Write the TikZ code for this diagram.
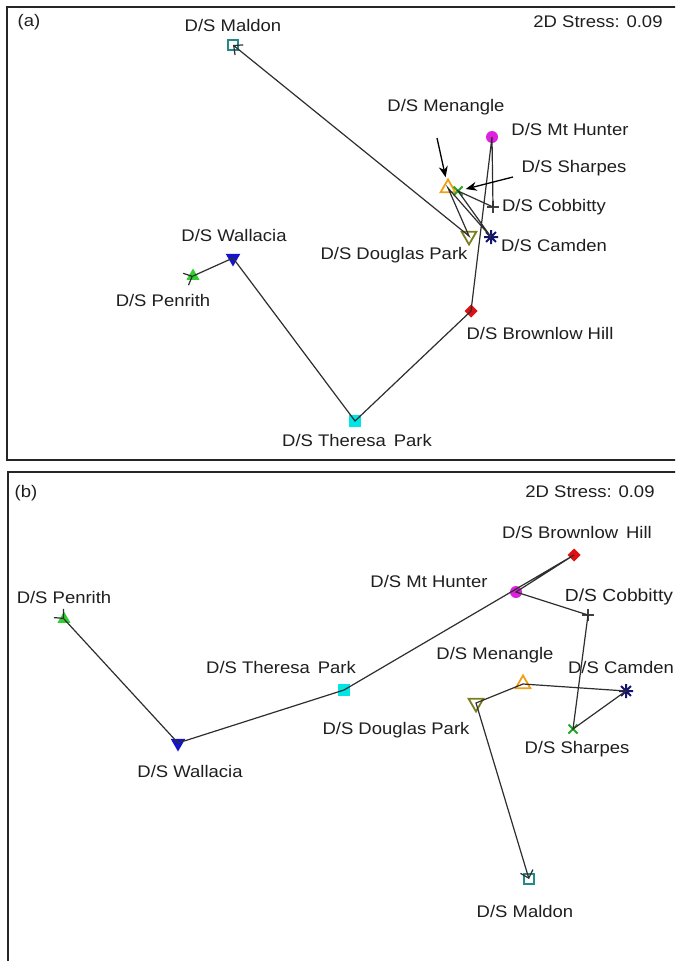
\documentclass[tikz,border=0pt]{standalone}
\usepackage{fontspec}
\setmainfont{Liberation Sans}[FakeStretch=1.1]
\usetikzlibrary{shapes.geometric,shapes.misc,arrows.meta,calc}
\definecolor{cMal}{HTML}{238A8A}
\definecolor{cHun}{HTML}{E020E0}
\definecolor{cMen}{HTML}{F0A010}
\definecolor{cSha}{HTML}{22A822}
\definecolor{cCob}{HTML}{404040}
\definecolor{cCam}{HTML}{14146E}
\definecolor{cDou}{HTML}{7D7D1E}
\definecolor{cBro}{HTML}{E01010}
\definecolor{cThe}{HTML}{00E6E6}
\definecolor{cWal}{HTML}{1414D0}
\definecolor{cPen}{HTML}{30D030}
\definecolor{cLine}{HTML}{2E2E2E}
\begin{document}
\begin{tikzpicture}[x=1pt,y=-1pt,
  lbl/.style={font=\fontsize{16.8}{18}\selectfont, text=black!88, inner sep=0pt},
  frame/.style={draw=black!85, line width=1.5pt},
  traj/.style={draw=cLine, line width=1.2pt},
  endtip/.style={-{Straight Barb[length=7pt,width=13pt,line width=1.2pt]}},
  lblarrow/.style={draw=black, line width=1.3pt, -{Stealth[length=11pt,width=9pt]}},
  mk/.style={inner sep=0pt, outer sep=0pt},
  mMal/.style={mk, rectangle, draw=cMal, line width=2pt, minimum size=10pt},
  mHun/.style={mk, circle, fill=cHun, minimum size=12pt},
  mMen/.style={mk, regular polygon, regular polygon sides=3, draw=cMen, line width=1.8pt, minimum size=17pt},
  mSha/.style={mk, cross out, draw=cSha, line width=1.8pt, minimum size=9pt},
  mCob/.style={mk, rectangle, minimum size=12pt},
  mCam/.style={mk, circle, minimum size=14pt},
  mDou/.style={mk, regular polygon, regular polygon sides=3, shape border rotate=180, draw=cDou, line width=1.8pt, minimum size=17pt},
  mBro/.style={mk, diamond, fill=cBro, minimum size=13pt},
  mThe/.style={mk, rectangle, fill=cThe, minimum size=12pt},
  mWal/.style={mk, regular polygon, regular polygon sides=3, shape border rotate=180, fill=cWal, minimum size=17pt},
  mPen/.style={mk, regular polygon, regular polygon sides=3, fill=cPen, minimum size=15pt},
  plusmark/.style={draw=cCob, line width=1.4pt},
  astmark/.style={draw=cCam, line width=2pt}
]
\useasboundingbox (0,0) rectangle (675,961);
\clip (0,0) rectangle (675,961);
\fill[white] (0,0) rectangle (675,961);

% ================= panel (a) =================
\draw[frame] (7,7) rectangle (690,460);
\node[lbl] (tagA) at (29,22) {(a)};
\node[lbl] (stressA) at (598,22) {2D Stress: 0.09};

\node[mMal] (malA) at (233,45) {};
\node[mHun] (hunA) at (492,137) {};
\node[mMen] (menA) at (448,188) {};
\node[mSha] (shaA) at (458,191) {};
\node[mCob] (cobA) at (493,207) {};
\node[mCam] (camA) at (491,237) {};
\node[mDou] (douA) at (469,236) {};
\node[mBro] (broA) at (471,311) {};
\node[mThe] (theA) at (355,421) {};
\node[mWal] (walA) at (233,258) {};
\node[mPen] (penA) at (193,276) {};

\draw[plusmark] (cobA.north) -- (cobA.south) (cobA.west) -- (cobA.east);
\draw[astmark] (camA.north) -- (camA.south) (camA.north east) -- (camA.south west)
  (camA.north west) -- (camA.south east) (camA.west) -- (camA.east);

\node[lbl] (lMalA) at (233,25) {D/S Maldon};
\node[lbl] (lHunA) at (570,129) {D/S Mt Hunter};
\node[lbl] (lMenA) at (446,107) {D/S Menangle};
\node[lbl] (lShaA) at (574,168) {D/S Sharpes};
\node[lbl] (lCobA) at (554,207) {D/S Cobbitty};
\node[lbl] (lCamA) at (554,245) {D/S Camden};
\node[lbl] (lDouA) at (394,255) {D/S Douglas Park};
\node[lbl] (lBroA) at (540,333) {D/S Brownlow Hill};
\node[lbl] (lTheA) at (357,440) {D/S Theresa\, Park};
\node[lbl] (lWalA) at (234,235) {D/S Wallacia};
\node[lbl] (lPenA) at (163,300) {D/S Penrith};

\draw[traj, endtip] (penA.center) -- (walA.center) -- (theA.center) -- (broA.center)
  -- (hunA.center) -- (cobA.center) -- (shaA.center) -- (camA.center)
  -- (menA.center) -- (douA.center) -- (malA.center);
\draw[traj, endtip] ($(penA.center)!-1pt!(walA.center)$) -- (penA.center);

\coordinate (aMen) at (437,138);
\coordinate (aSha) at (513,177);
\draw[lblarrow, shorten >=11pt] (aMen) -- (menA.center);
\draw[lblarrow, shorten >=8pt] (aSha) -- (shaA.center);

% ================= panel (b) =================
\draw[frame] (8,472) rectangle (690,975);
\node[lbl] (tagB) at (26,493) {(b)};
\node[lbl] (stressB) at (590,492) {2D Stress: 0.09};

\node[mMal] (malB) at (529,879) {};
\node[mHun] (hunB) at (516,592) {};
\node[mMen] (menB) at (523,684) {};
\node[mSha] (shaB) at (573,729) {};
\node[mCob] (cobB) at (588,615) {};
\node[mCam] (camB) at (626,691) {};
\node[mDou] (douB) at (476,703) {};
\node[mBro] (broB) at (574,555) {};
\node[mThe] (theB) at (344,690) {};
\node[mWal] (walB) at (178,743) {};
\node[mPen] (penB) at (64,619) {};

\draw[plusmark] (cobB.north) -- (cobB.south) (cobB.west) -- (cobB.east);
\draw[astmark] (camB.north) -- (camB.south) (camB.north east) -- (camB.south west)
  (camB.north west) -- (camB.south east) (camB.west) -- (camB.east);

\node[lbl] (lMalB) at (525,911) {D/S Maldon};
\node[lbl] (lHunB) at (429,581) {D/S Mt Hunter};
\node[lbl] (lMenB) at (495,655) {D/S Menangle};
\node[lbl] (lShaB) at (577,749) {D/S Sharpes};
\node[lbl, font=\fontsize{17.5}{20}\selectfont] (lCobB) at (619,597) {D/S Cobbitty};
\node[lbl] (lCamB) at (621,667) {D/S Camden};
\node[lbl] (lDouB) at (396,730) {D/S Douglas Park};
\node[lbl] (lBroB) at (577,532) {D/S Brownlow\, Hill};
\node[lbl] (lTheB) at (281,667) {D/S Theresa\, Park};
\node[lbl] (lWalB) at (190,771) {D/S Wallacia};
\node[lbl] (lPenB) at (64,597) {D/S Penrith};

\draw[traj, endtip] (penB.center) -- (walB.center) -- (theB.center) -- (broB.center)
  -- (hunB.center) -- (cobB.center) -- (shaB.center) -- (camB.center)
  -- (menB.center) -- (douB.center) -- (malB.center);
\draw[traj, endtip] ($(penB.center)!-1pt!(walB.center)$) -- (penB.center);
\end{tikzpicture}
\end{document}
